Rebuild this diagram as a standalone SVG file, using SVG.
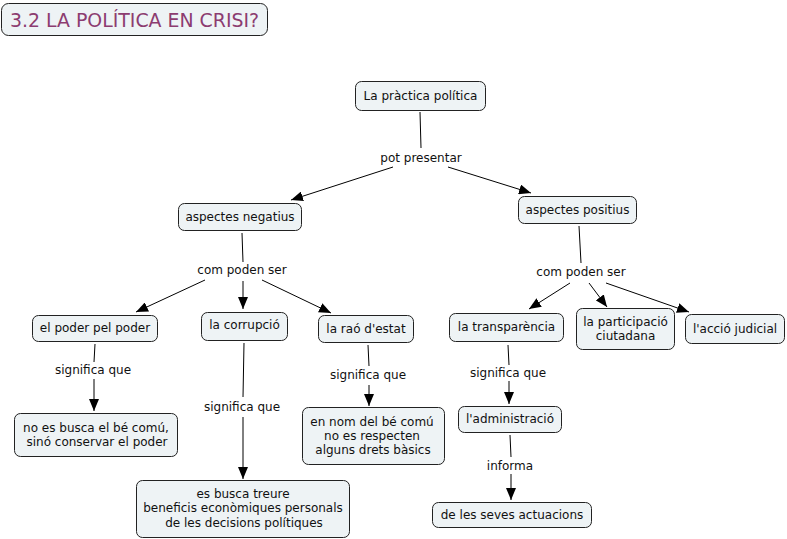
<svg xmlns="http://www.w3.org/2000/svg" width="787" height="539" viewBox="0 0 787 539">
<defs>
<marker id="ah" markerWidth="12" markerHeight="10" refX="12" refY="5" orient="auto" markerUnits="userSpaceOnUse">
<path d="M0,0 L12,5 L0,10 Z" fill="#000"/>
</marker>
<style>
.n rect{fill:#eef3f5;stroke:#222;stroke-width:1}
.n text,.l{font-family:"DejaVu Sans",Verdana,sans-serif;font-size:12px;fill:#111;text-anchor:middle}
.c line{stroke:#000;stroke-width:1}
.c line.a{marker-end:url(#ah)}
</style>
</defs>
<rect width="787" height="539" fill="#fff"/>
<g id="title" class="n">
<rect x="1.5" y="3.5" width="266" height="32" rx="7"/>
<text x="10" y="27" style="font-size:18.9px;fill:#8c3c70;text-anchor:start">3.2 LA POLÍTICA EN CRISI?</text>
</g>
<g id="connectors" class="c">
<line x1="420" y1="112" x2="421" y2="148"/>
<line class="a" x1="393" y1="167" x2="291" y2="200"/>
<line class="a" x1="448" y1="167" x2="531" y2="193"/>
<line x1="242" y1="233" x2="243" y2="262"/>
<line class="a" x1="205" y1="280" x2="136" y2="312"/>
<line class="a" x1="243" y1="281" x2="243" y2="309"/>
<line class="a" x1="262" y1="280" x2="331" y2="313"/>
<line x1="579" y1="226" x2="581" y2="263"/>
<line class="a" x1="570" y1="283" x2="529" y2="309"/>
<line class="a" x1="589" y1="283" x2="607" y2="307"/>
<line class="a" x1="606" y1="283" x2="689" y2="312"/>
<line x1="95" y1="344" x2="94" y2="362"/>
<line class="a" x1="94" y1="379" x2="94" y2="411"/>
<line x1="244" y1="343" x2="243" y2="397"/>
<line class="a" x1="243" y1="417" x2="243" y2="479"/>
<line x1="368" y1="345" x2="369" y2="366"/>
<line class="a" x1="369" y1="385" x2="369" y2="406"/>
<line x1="508" y1="345" x2="509" y2="365"/>
<line class="a" x1="509" y1="381" x2="509" y2="404"/>
<line x1="510" y1="435" x2="511" y2="457"/>
<line class="a" x1="511" y1="474" x2="511" y2="500"/>
</g>
<g id="labels">
<text class="l" x="421" y="162">pot presentar</text>
<text class="l" x="242" y="274">com poden ser</text>
<text class="l" x="581" y="276">com poden ser</text>
<text class="l" x="93" y="374">significa que</text>
<text class="l" x="242" y="411">significa que</text>
<text class="l" x="368" y="379">significa que</text>
<text class="l" x="508" y="377">significa que</text>
<text class="l" x="510" y="470">informa</text>
</g>
<g id="n1" class="n"><rect x="355.5" y="81.5" width="130" height="29" rx="6"/><text x="420.5" y="100">La pràctica política</text></g>
<g id="n2" class="n"><rect x="178.5" y="203.5" width="123" height="27" rx="6"/><text x="240" y="221">aspectes negatius</text></g>
<g id="n3" class="n"><rect x="518.5" y="196.5" width="118" height="27" rx="6"/><text x="577.5" y="214">aspectes positius</text></g>
<g id="n4" class="n"><rect x="32.5" y="315.5" width="125" height="26" rx="6"/><text x="95" y="332">el poder pel poder</text></g>
<g id="n5" class="n"><rect x="201.5" y="312.5" width="86" height="28" rx="6"/><text x="244.5" y="329">la corrupció</text></g>
<g id="n6" class="n"><rect x="318.5" y="315.5" width="95" height="27" rx="6"/><text x="366" y="333">la raó d'estat</text></g>
<g id="n7" class="n"><rect x="449.5" y="313.5" width="114" height="28" rx="6"/><text x="506.5" y="331">la transparència</text></g>
<g id="n8" class="n"><rect x="576.5" y="308.5" width="98" height="41" rx="6"/><text x="625.5" y="326">la participació</text><text x="625.5" y="340">ciutadana</text></g>
<g id="n9" class="n"><rect x="685.5" y="314.5" width="99" height="29" rx="6"/><text x="735" y="333">l'acció judicial</text></g>
<g id="n10" class="n"><rect x="14.5" y="413.5" width="163" height="43" rx="6"/><text x="96" y="432">no es busca el bé comú,</text><text x="97" y="446"> sinó conservar el poder</text></g>
<g id="n11" class="n"><rect x="136.5" y="480.5" width="213" height="57" rx="6"/><text x="243" y="498">es busca treure</text><text x="243" y="512">beneficis econòmiques personals</text><text x="244" y="527">de les decisions polítiques</text></g>
<g id="n12" class="n"><rect x="302.5" y="407.5" width="142" height="57" rx="6"/><text x="372" y="426">en nom del bé comú</text><text x="372" y="440">no es respecten</text><text x="373" y="454">alguns drets bàsics</text></g>
<g id="n13" class="n"><rect x="458.5" y="406.5" width="103" height="26" rx="6"/><text x="510" y="423">l'administració</text></g>
<g id="n14" class="n"><rect x="432.5" y="502.5" width="159" height="25" rx="6"/><text x="512" y="519">de les seves actuacions</text></g>
</svg>
